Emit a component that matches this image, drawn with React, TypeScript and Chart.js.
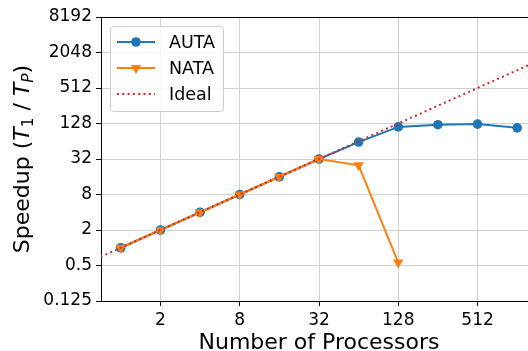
import React, { useEffect, useRef } from "react";
import { Chart, registerables } from "chart.js";

Chart.register(...registerables);

// ---- data ----
const processors = [1, 2, 4, 8, 16, 32, 64, 128, 256, 512, 1024];
const autaSpeedup = [1, 2, 4, 8, 16, 32, 62, 112, 122, 125, 108];
const nataProcessors = [1, 2, 4, 8, 16, 32, 64, 128];
const nataSpeedup = [1, 2, 4, 8, 16, 32, 25, 0.56];
const idealProcessors = [0.5, 2048];
const idealSpeedup = [0.5, 2048];
const xTicks = [2, 8, 32, 128, 512];
const yTicks = [0.125, 0.5, 2, 8, 32, 128, 512, 2048, 8192];
const xMin = Math.pow(2, -0.5);
const xMax = Math.pow(2, 10.5);
const yMin = 0.125;
const yMax = 8192;
const seriesLabels = ["AUTA", "NATA", "Ideal"];
const xTitle = "Number of Processors";

const BLUE = "#1f77b4";
const ORANGE = "#ff7f0e";
const RED = "#d62728";
const FONT = "'DejaVu Sans', 'Liberation Sans', sans-serif";

const toPoints = (xs: number[], ys: number[]) => xs.map((x, i) => ({ x, y: ys[i] }));

function drawTriangleDown(ctx: CanvasRenderingContext2D, x: number, y: number, r: number) {
  let rad = Math.PI;
  ctx.beginPath();
  ctx.moveTo(x + Math.sin(rad) * r, y - Math.cos(rad) * r);
  rad += (2 * Math.PI) / 3;
  ctx.lineTo(x + Math.sin(rad) * r, y - Math.cos(rad) * r);
  rad += (2 * Math.PI) / 3;
  ctx.lineTo(x + Math.sin(rad) * r, y - Math.cos(rad) * r);
  ctx.closePath();
  ctx.fill();
}

const decorPlugin = {
  id: "decor",
  afterDraw(chart: any) {
    const ctx: CanvasRenderingContext2D = chart.ctx;
    const area = chart.chartArea;
    ctx.save();
    // top spine
    ctx.strokeStyle = "#000";
    ctx.lineWidth = 1;
    ctx.beginPath();
    ctx.moveTo(area.left, area.top + 0.5);
    ctx.lineTo(area.right, area.top + 0.5);
    ctx.stroke();

    // x title
    ctx.fillStyle = "#000";
    ctx.font = `22px ${FONT}`;
    ctx.textAlign = "center";
    ctx.textBaseline = "alphabetic";
    ctx.fillText(xTitle, (area.left + area.right) / 2, 349);

    // y title with subscripts
    const pieces: [string, string, number][] = [
      ["Speedup (", `22px ${FONT}`, 0],
      ["T", `italic 22px ${FONT}`, 0],
      ["1", `15.4px ${FONT}`, 3.5],
      [" / ", `22px ${FONT}`, 0],
      ["T", `italic 22px ${FONT}`, 0],
      ["P", `italic 15.4px ${FONT}`, 3.5],
      [")", `22px ${FONT}`, 0],
    ];
    let total = 0;
    const widths = pieces.map(([t, f]) => {
      ctx.font = f;
      const w = ctx.measureText(t).width;
      total += w;
      return w;
    });
    ctx.translate(29, (area.top + area.bottom) / 2);
    ctx.rotate(-Math.PI / 2);
    ctx.textAlign = "left";
    let cx = -total / 2;
    pieces.forEach(([t, f, dy], i) => {
      ctx.font = f;
      ctx.fillText(t, cx, dy);
      cx += widths[i];
    });
    ctx.setTransform(1, 0, 0, 1, 0, 0);

    // legend
    const bx = 110.5, by = 26.5, bw = 113, bh = 85, br = 3;
    ctx.beginPath();
    ctx.moveTo(bx + br, by);
    ctx.lineTo(bx + bw - br, by);
    ctx.arcTo(bx + bw, by, bx + bw, by + br, br);
    ctx.lineTo(bx + bw, by + bh - br);
    ctx.arcTo(bx + bw, by + bh, bx + bw - br, by + bh, br);
    ctx.lineTo(bx + br, by + bh);
    ctx.arcTo(bx, by + bh, bx, by + bh - br, br);
    ctx.lineTo(bx, by + br);
    ctx.arcTo(bx, by, bx + br, by, br);
    ctx.closePath();
    ctx.fillStyle = "rgba(255,255,255,0.8)";
    ctx.fill();
    ctx.strokeStyle = "#cccccc";
    ctx.lineWidth = 1;
    ctx.stroke();

    const rows = [42, 68, 94];
    const colors = [BLUE, ORANGE, RED];
    rows.forEach((ry, i) => {
      ctx.strokeStyle = colors[i];
      ctx.lineWidth = 2;
      if (i === 2) ctx.setLineDash([2, 3.3]);
      else ctx.setLineDash([]);
      ctx.beginPath();
      ctx.moveTo(117, ry);
      ctx.lineTo(155, ry);
      ctx.stroke();
      ctx.setLineDash([]);
      ctx.fillStyle = colors[i];
      if (i === 0) {
        ctx.beginPath();
        ctx.arc(136, ry, 4.8, 0, Math.PI * 2);
        ctx.fill();
      } else if (i === 1) {
        drawTriangleDown(ctx, 136, ry, 6);
      }
      ctx.fillStyle = "#000";
      ctx.font = `17.5px ${FONT}`;
      ctx.textAlign = "left";
      ctx.textBaseline = "middle";
      ctx.fillText(seriesLabels[i], 169, ry + 1);
    });
    ctx.restore();
  },
};

export default function App() {
  const ref = useRef<HTMLCanvasElement | null>(null);
  useEffect(() => {
    if (!ref.current) return;
    const chart = new Chart(ref.current, {
      type: "line",
      data: {
        datasets: [
          {
            label: seriesLabels[0],
            data: toPoints(processors, autaSpeedup),
            borderColor: BLUE,
            backgroundColor: BLUE,
            borderWidth: 2,
            pointRadius: 4.8,
            pointBorderWidth: 0,
            pointStyle: "circle",
            order: 3,
            clip: 0,
          },
          {
            label: seriesLabels[1],
            data: toPoints(nataProcessors, nataSpeedup),
            borderColor: ORANGE,
            backgroundColor: ORANGE,
            borderWidth: 2,
            pointRadius: 6,
            pointBorderWidth: 0,
            pointStyle: "triangle",
            rotation: 180,
            order: 2,
            clip: 0,
          },
          {
            label: seriesLabels[2],
            data: toPoints(idealProcessors, idealSpeedup),
            borderColor: RED,
            backgroundColor: RED,
            borderWidth: 2,
            borderDash: [2, 3.3],
            pointRadius: 0,
            order: 1,
            clip: 0,
          },
        ],
      } as any,
      options: {
        animation: false,
        responsive: false,
        devicePixelRatio: 1,
        layout: { padding: { top: 17, left: 0, right: 0, bottom: 0 } },
        plugins: { legend: { display: false }, tooltip: { enabled: false } },
        scales: {
          x: {
            type: "logarithmic",
            bounds: "data",
            min: xMin,
            max: xMax,
            afterBuildTicks: (s: any) => {
              s.ticks = xTicks.map((v) => ({ value: v }));
            },
            afterFit: (s: any) => {
              s.height = 50;
            },
            ticks: {
              autoSkip: false,
              maxRotation: 0,
              padding: 4,
              color: "#000",
              font: { family: FONT, size: 17 },
              callback: (v: any) => String(v),
            },
            grid: { color: "#d0d0d0", lineWidth: 1, tickColor: "#000", tickLength: 5, drawTicks: true },
            border: { display: true, color: "#000", width: 1 },
          },
          y: {
            type: "logarithmic",
            bounds: "data",
            min: yMin,
            max: yMax,
            afterBuildTicks: (s: any) => {
              s.ticks = yTicks.map((v) => ({ value: v }));
            },
            afterFit: (s: any) => {
              s.width = 101;
            },
            ticks: {
              autoSkip: false,
              padding: 4,
              color: "#000",
              font: { family: FONT, size: 17 },
              callback: (v: any) => String(v),
            },
            grid: { color: "#d0d0d0", lineWidth: 1, tickColor: "#000", tickLength: 5, drawTicks: true },
            border: { display: true, color: "#000", width: 1 },
          },
        },
      } as any,
      plugins: [decorPlugin],
    });
    return () => chart.destroy();
  }, []);
  return (
    <div style={{ position: "absolute", left: 0, top: 0, width: 528, height: 351, overflow: "hidden", background: "#fff" }}>
      <canvas ref={ref} width={543} height={351} style={{ display: "block" }} />
    </div>
  );
}
